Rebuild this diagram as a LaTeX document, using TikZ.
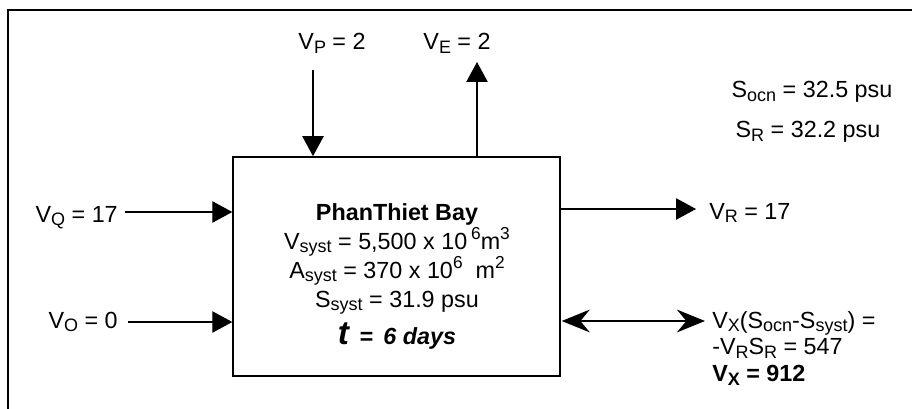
\documentclass[tikz,border=0pt]{standalone}
\usepackage{fontspec}
\setmainfont{Liberation Sans}
\usetikzlibrary{arrows.meta,positioning,calc}

\newcommand{\lw}[1]{\smash{\raisebox{-0.3ex}{\fontsize{13.5}{13.5}\selectfont #1}}}
\newcommand{\up}[1]{\smash{\raisebox{0.75ex}{\fontsize{13}{13}\selectfont #1}}}

\begin{document}
\begin{tikzpicture}[
    x=0.75pt, y=-0.75pt,
    every node/.style={font=\fontsize{17.5}{20}\selectfont, inner sep=0pt},
    bay/.style={rectangle, draw=black, line width=1.3pt, minimum width=245pt, minimum height=164.25pt},
    frame/.style={line width=1.3pt},
    flow/.style={line width=1pt, -{Triangle[length=15pt, width=16pt]}},
    exchange/.style={line width=2pt, {Stealth[length=21pt, width=17pt, inset=7pt]}-{Stealth[length=21pt, width=17pt, inset=7pt]}}
]
    \useasboundingbox (0,0) rectangle (912,409);

    % outer frame (top and left only)
    \draw[frame] (8,409) -- (8,10) -- (912,10);

    % the bay
    \node[bay] (bay) at (396.5,266.5) {};
    \node[anchor=north, align=center, font=\fontsize{17.5}{21.75}\selectfont] (baytext) at (397,203) {%
        \textbf{PhanThiet Bay}\\
        V\lw{syst} = 5,500 x 10\,\up{6}m\up{3}\\
        A\lw{syst} = 370 x 10\up{6}~ m\up{2}\\
        S\lw{syst} = 31.9 psu\\[6pt]
        \textbf{\textit{\smash{\fontsize{25}{20}\selectfont t}\, = \,6 days}}};

    % inflows on the left
    \node[anchor=east] (vq) at (118,214) {V\lw{Q} = 17};
    \node[anchor=east] (vo) at (118,320) {V\lw{O} = 0};
    \draw[flow] ($(vq.east)+(7,-2)$) -- (bay.west |- 0,212);
    \draw[flow] ($(vo.east)+(10,2)$) -- (bay.west |- 0,322);

    % precipitation and evaporation
    \node[anchor=base] (vp) at (332,50) {V\lw{P} = 2};
    \node[anchor=base] (ve) at (457,50) {V\lw{E} = 2};
    \coordinate (ptop) at (313,70);
    \coordinate (etop) at (477,62);
    \draw[flow] (ptop) -- (bay.north -| ptop);
    \draw[flow] (bay.north -| etop) -- (etop);

    % outflow and exchange on the right
    \node[anchor=west] (vr) at (709,211) {V\lw{R} = 17};
    \coordinate (rtip) at (696,209);
    \draw[flow] (bay.east |- rtip) -- (rtip);

    \node[anchor=north west, align=left] (vx) at (712,311) {%
        V\lw{X}(S\lw{ocn}-S\lw{syst}) =\\
        -V\lw{R}S\lw{R} = 547\\
        \textbf{V\lw{X} = 912}};
    \coordinate (xtip) at (705,321);
    \draw[exchange] ($(bay.east |- xtip)+(1,0)$) -- (xtip);

    % salinities
    \node[anchor=base] (socn) at (812,98) {S\lw{ocn} = 32.5 psu};
    \node[anchor=base] (sr) at (808,138) {S\lw{R} = 32.2 psu};
\end{tikzpicture}
\end{document}
